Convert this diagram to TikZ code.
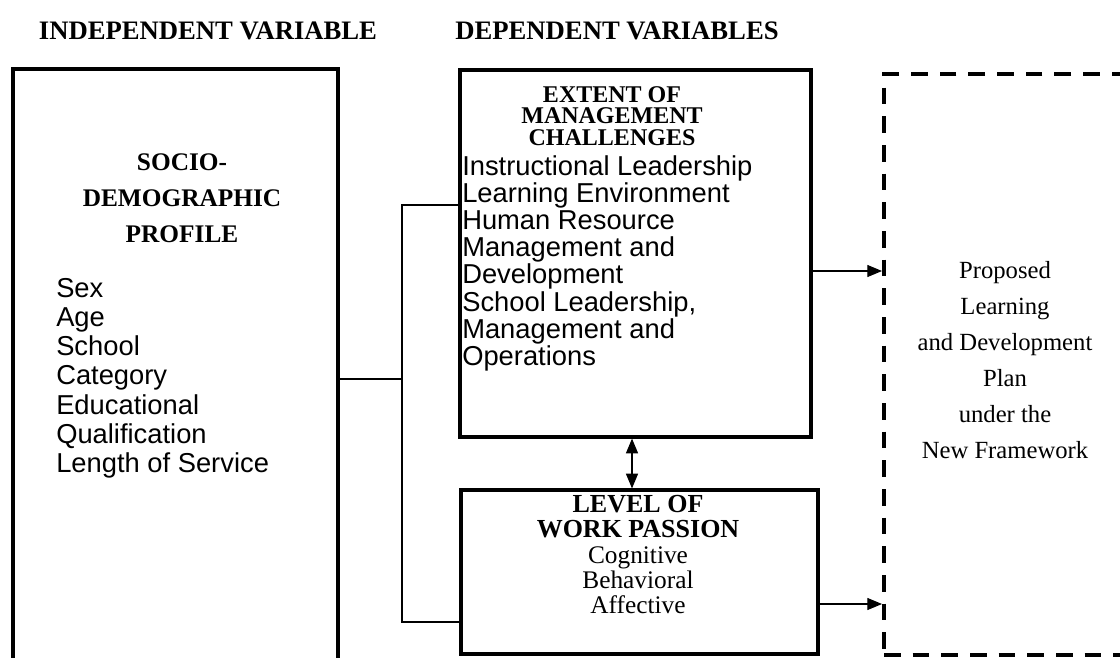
\documentclass[tikz,border=0pt]{standalone}
\usepackage{fontspec}
\setmainfont{Liberation Serif}
\newfontfamily\arialf{Liberation Sans}
\usetikzlibrary{arrows.meta,fit}
\begin{document}
\begin{tikzpicture}[x=0.75pt,y=-0.75pt,
  box/.style={draw,line width=2.4pt,inner sep=0pt},
  dbox/.style={draw,line width=3pt,dash pattern=on 12.5pt off 9pt,inner sep=0pt},
  title/.style={font=\fontsize{20}{24}\selectfont\bfseries,inner sep=0pt},
  head/.style={font=\fontsize{19}{27}\selectfont\bfseries,inner sep=0pt,align=center},
  conn/.style={line width=0.8pt},
  arr/.style={line width=0.8pt,-{Triangle[length=11pt,width=9pt]}},
  darr/.style={line width=0.8pt,{Triangle[length=11pt,width=9pt]}-{Triangle[length=11pt,width=9pt]}}]
\useasboundingbox (0,0) rectangle (1120,657);
% titles
\node[title] (t1) at (208,31) {INDEPENDENT VARIABLE};
\node[title] (t2) at (617,31) {DEPENDENT VARIABLES};
% boxes
\node[box,fit={(13,69) (338,720)}] (left) {};
\node[box,fit={(460,70) (811,437)}] (mid) {};
\node[box,fit={(461,490) (818,654)}] (low) {};
\node[dbox,fit={(884,74) (1160,655)}] (prop) {};
% left box text
\node[head,anchor=north] (lh) at (182,153) {SOCIO-\\DEMOGRAPHIC\\PROFILE};
\node[font=\fontsize{20.5}{21.9}\selectfont\arialf,align=left,anchor=north west,inner sep=0pt] (ll) at (56,278)
 {Sex\\Age\\School\\Category\\Educational\\Qualification\\Length of Service};
% middle box text
\node[font=\fontsize{18}{16.3}\selectfont\bfseries,align=center,anchor=north,inner sep=0pt] (mh) at (612,86)
 {EXTENT OF\\MANAGEMENT\\CHALLENGES};
\node[font=\fontsize{20.5}{20.4}\selectfont\arialf,align=left,anchor=north west,inner sep=0pt] (ml) at (462,155)
 {Instructional Leadership\\Learning Environment\\Human Resource\\Management and\\Development\\School Leadership,\\Management and\\Operations};
% lower box text
\node[font=\fontsize{19.5}{19}\selectfont\bfseries,align=center,anchor=north,inner sep=0pt] (lwh) at (638,495)
 {LEVEL OF\\WORK PASSION};
\node[font=\fontsize{19}{19}\selectfont,align=center,anchor=north,inner sep=0pt] (lwl) at (638,546)
 {Cognitive\\Behavioral\\Affective};
% dashed box text
\node[font=\fontsize{18.5}{27}\selectfont,align=center,anchor=north,inner sep=0pt] (pt) at (1005,261)
 {Proposed\\Learning\\and Development\\Plan\\under the\\New Framework};
% connectors
\coordinate (j) at (402,379);
\coordinate (jt) at (402,205);
\coordinate (jb) at (402,622);
\draw[conn] (left.east |- j) -- (j);
\draw[conn] (mid.west |- jt) -- (jt) -- (jb) -- (low.west |- jb);
\coordinate (a1) at (0,271);
\coordinate (a2) at (0,604);
\draw[arr] (mid.east |- a1) -- (prop.west |- a1);
\draw[arr] (low.east |- a2) -- (prop.west |- a2);
\coordinate (dx) at (632,0);
\draw[darr] (mid.south -| dx) -- (low.north -| dx);
\end{tikzpicture}
\end{document}
